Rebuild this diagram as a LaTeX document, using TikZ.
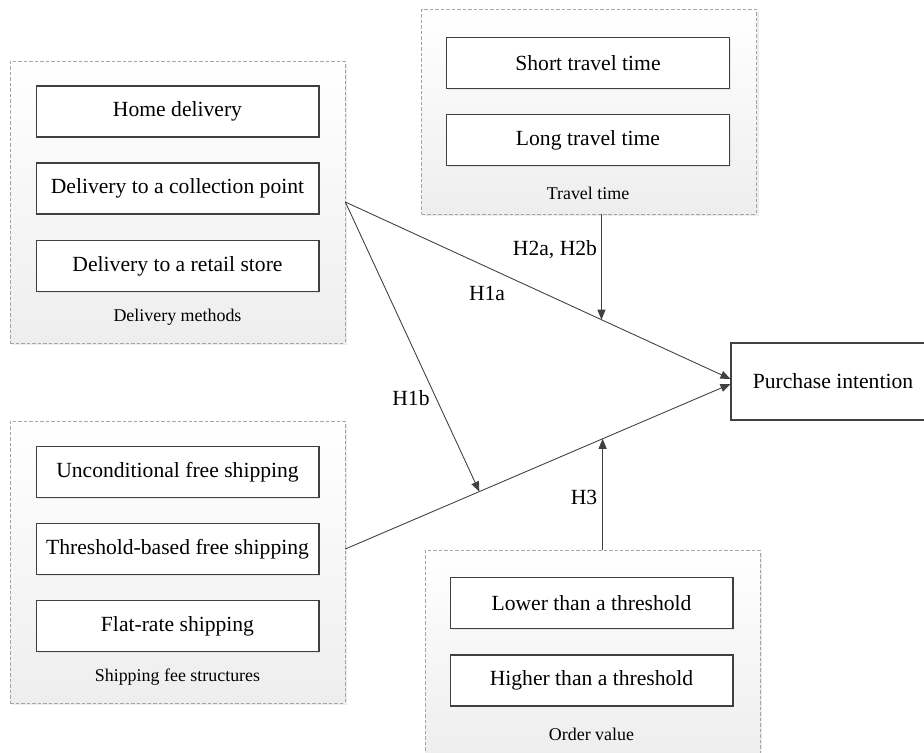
\documentclass[tikz,border=0pt]{standalone}
\usepackage{fontspec}
\setmainfont{Liberation Serif}
\usepackage{tikz}
\usetikzlibrary{arrows.meta, shadows}
\definecolor{linegray}{RGB}{64, 64, 64}
\definecolor{dashgray}{RGB}{165, 165, 165}
\definecolor{panelgray}{RGB}{238, 238, 238}

\begin{document}
\begin{tikzpicture}[
    x=0.02cm, y=-0.02cm,
    group/.style={rectangle, draw=dashgray, dash pattern=on 0.07cm off 0.04cm, line width=0.4pt, top color=white, bottom color=panelgray, minimum width=6.7cm, drop shadow={shadow xshift=0.05cm, shadow yshift=-0.05cm, opacity=0.15}},
    level/.style={rectangle, draw=linegray, line width=0.6pt, fill=white, minimum width=5.66cm, minimum height=1.02cm, font=\fontsize{12.3}{14}\selectfont, drop shadow={shadow xshift=0.03cm, shadow yshift=-0.03cm, opacity=0.15}},
    caption/.style={font=\fontsize{10.2}{12}\selectfont},
    hypo/.style={font=\fontsize{12.3}{14}\selectfont},
    target/.style={rectangle, draw=linegray, line width=0.6pt, fill=white, minimum width=4.08cm, minimum height=1.54cm, font=\fontsize{12.3}{14}\selectfont},
    link/.style={-{Triangle[length=0.2cm, width=0.16cm]}, draw=linegray, line width=0.5pt}
]
    \useasboundingbox (0, 0) rectangle (924, 753);

    % Delivery methods (left, top)
    \node[group, minimum height=5.64cm] (dlv) at (177.5, 202) {};
    \node[level] (home) at (177.5, 111.5) {Home delivery};
    \node[level] (collect) at (177.5, 188.5) {Delivery to a collection point};
    \node[level] (retail) at (177.5, 266) {Delivery to a retail store};
    \node[caption] (dlvcap) at (177.5, 317) {Delivery methods};

    % Shipping fee structures (left, bottom)
    \node[group, minimum height=5.64cm] (ship) at (177.5, 562) {};
    \node[level] (uncond) at (177.5, 472) {Unconditional free shipping};
    \node[level] (thresh) at (177.5, 549) {Threshold-based free shipping};
    \node[level] (flat) at (177.5, 626) {Flat-rate shipping};
    \node[caption] (shipcap) at (177.5, 677) {Shipping fee structures};

    % Travel time (top)
    \node[group, minimum height=4.1cm] (travel) at (589, 111.5) {};
    \node[level] (short) at (588, 63) {Short travel time};
    \node[level] (long) at (588, 140) {Long travel time};
    \node[caption] (travelcap) at (588, 193) {Travel time};

    % Order value (bottom)
    \node[group, minimum height=4.1cm] (order) at (592.5, 652.5) {};
    \node[level] (lower) at (591.5, 603) {Lower than a threshold};
    \node[level] (higher) at (591.5, 680.5) {Higher than a threshold};
    \node[caption] (ordercap) at (591.5, 734) {Order value};

    % Outcome
    \node[target] (pi) at (833, 381.5) {Purchase intention};

    % Main effects
    \draw[link] (dlv.east) -- coordinate[pos=0.665] (hit1) ([yshift=0.05cm]pi.west);
    \draw[link] (ship.east |- thresh) -- coordinate[pos=0.348] (hit2) coordinate[pos=0.668] (hit3) ([yshift=-0.05cm]pi.west);
    \draw[link] (dlv.east) -- (hit2);

    % Moderators
    \draw[link] (travel.south -| hit1) -- (hit1);
    \draw[link] (order.north -| hit3) -- (hit3);

    % Hypotheses
    \node[hypo] (h1a) at (487, 293) {H1a};
    \node[hypo] (h1b) at (411, 398) {H1b};
    \node[hypo] (h2) at (555, 250) {H2a, H2b};
    \node[hypo] (h3) at (584, 497) {H3};
\end{tikzpicture}
\end{document}
